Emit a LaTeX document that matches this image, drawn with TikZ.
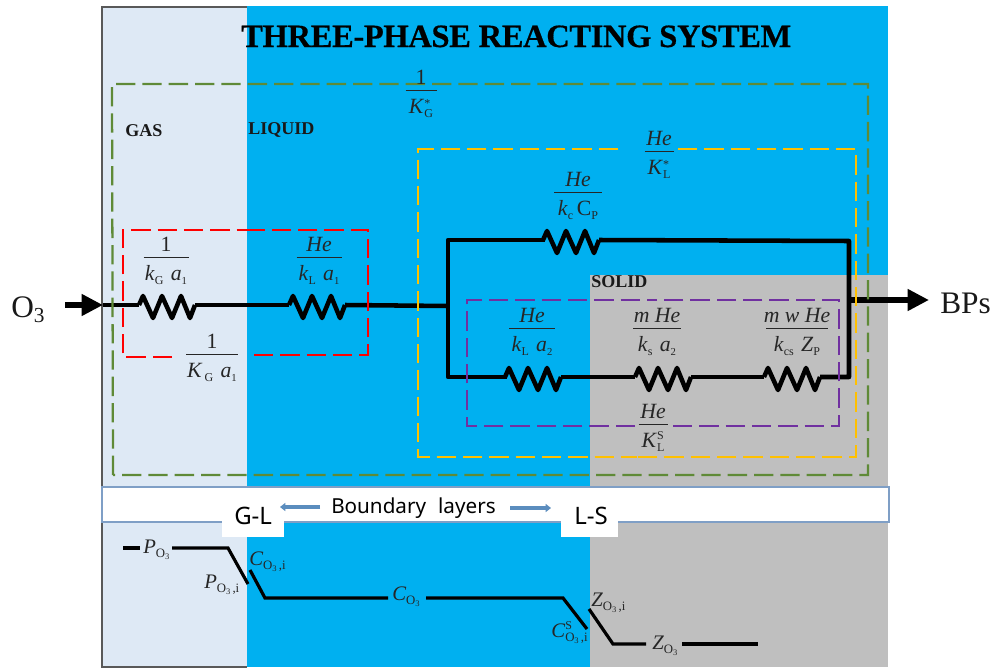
\documentclass[tikz,border=0pt]{standalone}
\usepackage{fontspec}
\setmainfont{Liberation Serif}
\newfontfamily\sansf{Noto Sans}
\usetikzlibrary{arrows.meta}
\definecolor{gasc}{HTML}{DEE9F5}
\definecolor{liqc}{HTML}{00B0F0}
\definecolor{solc}{HTML}{BFBFBF}
\definecolor{greenc}{HTML}{5F8A37}
\definecolor{yelc}{HTML}{FFC000}
\definecolor{redc}{HTML}{FF0000}
\definecolor{purc}{HTML}{7030A0}
\definecolor{bandc}{HTML}{7F9FC6}
\definecolor{arrc}{HTML}{5B8DBE}
\newcommand\sbb[1]{\raisebox{-2.8pt}{\fontsize{9}{9}\selectfont #1}}
\newcommand\sbn[1]{\raisebox{-2.4pt}{\fontsize{8}{8}\selectfont #1}}
\newcommand\kk[1]{\textit{k}\sbb{#1}}
\newcommand\aone[1]{\textit{a}\sbn{#1}}
\newcommand\othree{\raisebox{-3pt}{\fontsize{9.6}{9}\selectfont O\raisebox{-1.6pt}{\fontsize{6.4}{6}\selectfont 3}}}
\newcommand\othreei{\raisebox{-3pt}{\fontsize{9.6}{9}\selectfont O\raisebox{-1.6pt}{\fontsize{6.4}{6}\selectfont 3}\,,i}}
\newcommand\fracbox[3]{\hbox to #3{\rlap{\hbox to #3{\hss\raisebox{5.2pt}{#1}\hss}}\rlap{\hbox to #3{\hss\raisebox{-17.2pt}{#2}\hss}}\rlap{\rule{#3}{0.6pt}}\hss}}
\newcommand\flabel[6]{\node[mathlabel,anchor=base] (#1) at (#2,#3) {\fracbox{#5}{#6}{\dimexpr#4pt*3/4\relax}};}
\newcommand\res[3]{\coordinate (#1-l) at (#2,#3);
  \draw[wire] (#1-l) -- ++(4,-9) -- ++(10,22) -- ++(9,-22) -- ++(10,22) -- ++(9,-22) -- ++(9,22) -- ++(5,-13) coordinate (#1-r);}
\tikzset{
  x=0.75pt,y=-0.75pt,
  wire/.style={draw=black,line width=3.4pt,line join=round},
  bigarrow/.style={draw=black,line width=5pt,-{Triangle[length=16pt,width=15.5pt]}},
  profile/.style={draw=black,line width=2.4pt},
  dashbox/.style={line width=1.7pt,dash pattern=on 14.5pt off 5.25pt},
  mathlabel/.style={inner sep=0pt,font=\fontsize{16.3}{18}\selectfont,text=black!85},
  phase/.style={inner sep=0pt,anchor=base west,font=\bfseries\fontsize{13.5}{15}\selectfont,text=black!90},
  conc/.style={inner sep=0pt,anchor=base west,font=\fontsize{15.5}{18}\selectfont,text=black!85},
  species/.style={inner sep=0pt,anchor=base west,font=\fontsize{23.5}{26}\selectfont,text=black!90},
  blue arrow/.style={draw=arrc,line width=2.6pt,-{Triangle[length=4pt,width=6pt]}},
  sanslabel/.style={inner sep=0pt,anchor=base west,font=\sansf\fontsize{15.5}{18}\selectfont},
}
\begin{document}
\begin{tikzpicture}
\useasboundingbox (0,0) rectangle (992,671);
% phases
\fill[gasc] (102,7) rectangle (247,667);
\fill[liqc] (247,6) rectangle (888,667);
\fill[solc] (590,275) rectangle (888,667);
\draw[black!65,line width=0.9pt] (247,7) -- (102,7) -- (102,667) -- (247,667);
% boundary band
\draw[bandc,fill=white,line width=0.8pt] (102,487) rectangle (889,522);
\fill[white] (222,500) rectangle (284,537);
\fill[white] (561,500) rectangle (618,537);
\node[sanslabel] (bl) at (331,513) {Boundary\hspace{5pt} layers};
\node[sanslabel,font=\sansf\fontsize{18}{20}\selectfont] (gl) at (234,524) {G-L};
\node[sanslabel,font=\sansf\fontsize{18}{20}\selectfont] (ls) at (574,524) {L-S};
\coordinate (bla) at (320,507); \coordinate (blb) at (280,507);
\coordinate (bra) at (510,508); \coordinate (brb) at (551,508);
\draw[blue arrow] (bla) -- (blb);
\draw[blue arrow] (bra) -- (brb);
% title
\node[inner sep=0pt,anchor=base west,font=\bfseries\fontsize{24.4}{28}\selectfont\addfontfeature{LetterSpace=-1.1,FakeBold=0.5}] (title) at (241,47) {THREE-PHASE REACTING SYSTEM};
\node[phase] (gas) at (125,136) {GAS};
\node[phase] (liquid) at (248,134) {LIQUID};
\node[phase] (solid) at (591,287) {SOLID};
% species
\node[species] (o3) at (11,317) {O\raisebox{-4pt}{\fontsize{16}{16}\selectfont 3}};
\node[species] (bps) at (940,313) {BPs};
% network
\coordinate (in) at (65,305);
\coordinate (inend) at (103,305);
\coordinate (ja) at (448,306);
\coordinate (jt) at (448,240);
\coordinate (jb) at (448,377);
\coordinate (ka) at (849,300);
\coordinate (kt) at (849,241);
\coordinate (kb) at (849,377);
\coordinate (out) at (929,300);
\res{ra}{139}{305}
\res{rb}{289}{305}
\res{rc}{543}{240}
\res{rd}{505}{377}
\res{re}{635}{377}
\res{rf}{764}{377}
\draw[wire] (inend) -- (ra-l);
\draw[wire] (ra-r) -- (rb-l);
\draw[wire] (rb-r) -- (ja);
\draw[wire,line cap=rect] (rc-l) -- (jt) -- (jb) -- (rd-l);
\draw[wire] (rd-r) -- (re-l);
\draw[wire] (re-r) -- (rf-l);
\draw[wire] (rc-r) -- (kt) -- (kb) -- (rf-r);
\draw[bigarrow] (in) -- (inend);
\draw[bigarrow] (ka) -- (out);
% dashed groups
\draw[dashbox,greenc] (113,475) -- (112,84) -- (868,84) -- (868,475) -- cycle;
\draw[dashbox,yelc] (678,149) -- (856,149) -- (856,457) -- (637,457);
\draw[dashbox,yelc] (618,149) -- (418,149) -- (418,457) -- (637,457);
\draw[dashbox,redc] (172,357) -- (123,357) -- (123,230) -- (246,230);
\draw[dashbox,redc] (254,355) -- (368,355) -- (368,230) -- (246,230);
\draw[dashbox,purc] (673,426) -- (839,426) -- (839,300) -- (653,300);
\draw[dashbox,purc] (635,426) -- (467,426) -- (467,300) -- (653,300);
% fraction labels
\flabel{fa}{166}{258}{45}{1}{\kk{G}\,\,\aone{1}}
\flabel{fb}{319}{258}{45}{\textit{He}}{\kk{L}\,\,\aone{1}}
\flabel{fc}{421}{91}{31}{1}{\textit{K}\rlap{\raisebox{5pt}{\fontsize{9}{9}\selectfont *}}\sbb{G}}
\flabel{fd}{659}{152}{29}{\textit{He}}{\textit{K}\rlap{\raisebox{5pt}{\fontsize{9}{9}\selectfont *}}\sbb{L}}
\flabel{fe}{578}{193}{48}{\textit{He}}{\kk{c}\,C\sbb{P}}
\flabel{ff}{532}{329}{46}{\textit{He}}{\kk{L}\,\,\aone{2}}
\flabel{fg}{657}{329}{48}{\textit{m He}}{\kk{s}\,\,\aone{2}}
\flabel{fh}{797}{329}{62}{\textit{m w He}}{\kk{cs}\,\,\textit{Z}\sbb{P}}
\flabel{fi}{653}{425}{29}{\textit{He}}{\textit{K}\rlap{\raisebox{6pt}{\fontsize{9}{9}\selectfont S}}\sbb{L}}
\flabel{fj}{212}{355}{52}{1}{\textit{K}\sbb{\,G}\,\,\aone{1}}
% concentration profile
\node[conc] (pa) at (143,553) {\textit{P}\othree};
\node[conc] (pb) at (204,588) {\textit{P}\othreei};
\node[conc] (ca) at (249,565) {\textit{C}\othreei};
\node[conc] (cb) at (392,600) {\textit{C}\othree};
\node[conc] (za) at (591,606) {\textit{Z}\othreei};
\node[conc] (cc) at (551,637) {\textit{C}\rlap{\raisebox{5.5pt}{\fontsize{9}{9}\selectfont S}}\othreei};
\node[conc] (zb) at (652,649) {\textit{Z}\othree};
\coordinate (p0) at (123,548); \coordinate (p1) at (140,548);
\coordinate (p2) at (172,548); \coordinate (p3) at (228,548); \coordinate (p4) at (248,584);
\coordinate (c1) at (250,570); \coordinate (c2) at (265,598); \coordinate (c3) at (388,598);
\coordinate (c4) at (426,598); \coordinate (c5) at (563,598); \coordinate (c6) at (587,629);
\coordinate (z1) at (589,609); \coordinate (z2) at (613,644); \coordinate (z3) at (646,644);
\coordinate (z4) at (682,644); \coordinate (z5) at (758,644);
\draw[profile] (p0) -- (p1);
\draw[profile] (p2) -- (p3) -- (p4);
\draw[profile] (c1) -- (c2) -- (c3);
\draw[profile] (c4) -- (c5) -- (c6);
\draw[profile] (z1) -- (z2) -- (z3);
\draw[profile] (z4) -- (z5);
\end{tikzpicture}
\end{document}
